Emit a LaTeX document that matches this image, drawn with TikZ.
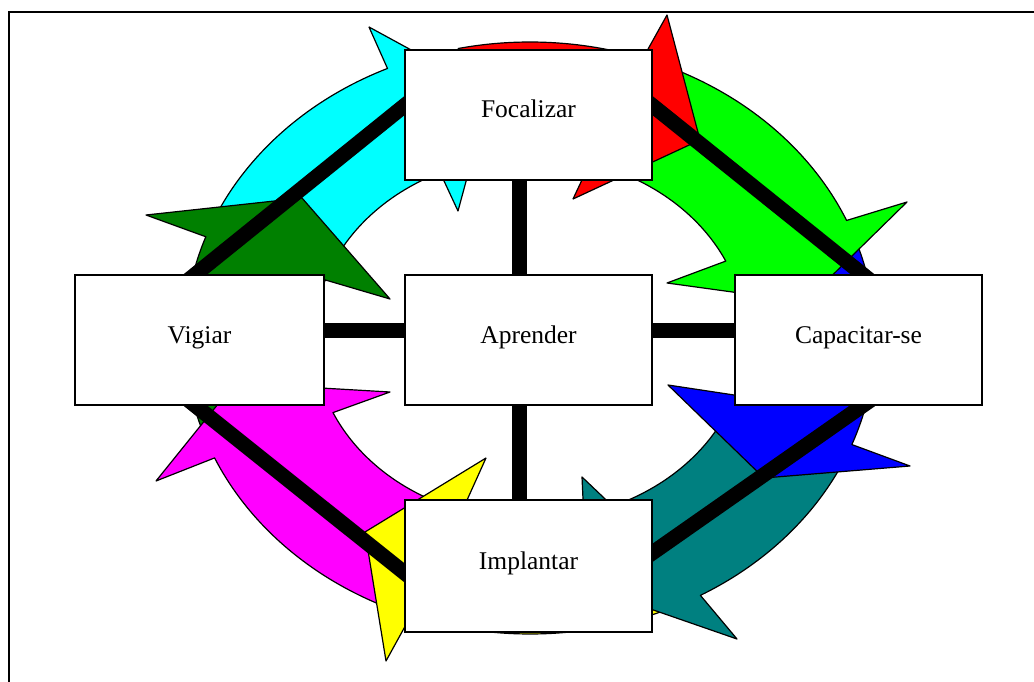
\documentclass[tikz,border=0pt]{standalone}
\usepackage{fontspec}
\setmainfont{Liberation Serif}
\usetikzlibrary{calc}
\pgfdeclarelayer{ring}
\pgfdeclarelayer{links}
\pgfsetlayers{ring,links,main}
\definecolor{ringcyan}{RGB}{0,255,255}
\definecolor{ringred}{RGB}{255,0,0}
\definecolor{ringlime}{RGB}{0,255,0}
\definecolor{ringblue}{RGB}{0,0,255}
\definecolor{ringteal}{RGB}{0,128,128}
\definecolor{ringyellow}{RGB}{255,255,0}
\definecolor{ringmagenta}{RGB}{255,0,255}
\definecolor{ringdkgreen}{RGB}{0,128,0}
\tikzset{
  ringpart/.style={draw=black, line width=1.2pt, line join=round},
  box/.style={draw=black, fill=white, line width=1.5pt, inner sep=0pt,
    minimum width=247pt, minimum height=130pt,
    font=\fontsize{25.5}{30}\selectfont, text height=12pt, text depth=6pt},
  link/.style={draw=black, line width=15pt, shorten <=-12pt, shorten >=-12pt},
  frameline/.style={draw=black, line width=1.5pt},
}
% one curved block arrow of the ring, running clockwise:
% #1 colour, #2 tail angle, #3 outer notch angle, #4 inner notch angle,
% #5 outer barb, #6 tip, #7 inner barb
\newcommand{\ringarrow}[7]{%
  \filldraw[ringpart, fill=#1]
    plot[domain=#2:#3, samples=40] ({530+345*cos(\x)},{338-296*sin(\x)})
    -- #5 -- #6 -- #7 --
    plot[domain=#4:#2, samples=40] ({530+216*cos(\x)},{338-182*sin(\x)})
    -- cycle;
}
\begin{document}
\begin{tikzpicture}[x=1pt,y=-1pt]
\useasboundingbox (0,0) rectangle (1034,682);

\begin{pgfonlayer}{ring}
  \fill[white] (0,0) rectangle (1034,682);
  \draw[frameline] (9,682) -- (9,12) -- (1034,12);
  \ringarrow{ringcyan}{158}{114.4}{114.6}{(369,27)}{(490,93)}{(458,211)}
  \ringarrow{ringdkgreen}{198}{160}{161.4}{(146,215)}{(302,198)}{(390,299)}
  \ringarrow{ringmagenta}{246}{203.9}{204.2}{(156,481)}{(235,383)}{(390,392)}
  \ringarrow{ringyellow}{295}{249.8}{251.7}{(386,661)}{(365,532)}{(486,458)}
  \ringarrow{ringteal}{335}{299.6}{292.5}{(737,639)}{(587,587)}{(582,477)}
  \ringarrow{ringblue}{22}{-21.1}{-18.3}{(910,466)}{(764,478)}{(668,385)}
  \ringarrow{ringlime}{68}{23.4}{25}{(907,202)}{(805,302)}{(667,283)}
  \ringarrow{ringred}{102}{70.9}{73.9}{(667,15)}{(700,140)}{(573,199)}
\end{pgfonlayer}

\node[box] (foc) at (528.5,115) {Focalizar};
\node[box] (apr) at (528.5,340) {Aprender};
\node[box, minimum width=249pt] (vig) at (199.5,340) {Vigiar};
\node[box] (cap) at (858.5,340) {Capacitar-se};
\node[box, minimum height=132pt] (imp) at (528.5,566) {Implantar};

\begin{pgfonlayer}{links}
  \draw[link] ($(foc.south)+(-9,0)$) -- ($(apr.north)+(-9,0)$);
  \draw[link] ($(apr.south)+(-9,0)$) -- ($(imp.north)+(-9,0)$);
  \draw[link] ($(vig.east)+(0,-9.5)$) -- ($(apr.west)+(0,-9.5)$);
  \draw[link] ($(apr.east)+(0,-9.5)$) -- ($(cap.west)+(0,-9.5)$);
  \draw[link] ($(foc.north west)!0.43!(foc.south west)$) -- ($(vig.north)+(-4,0)$);
  \draw[link] ($(foc.north east)!0.43!(foc.south east)$) -- ($(cap.north)+(4,0)$);
  \draw[link] ($(vig.south)+(-4,0)$) -- ($(imp.north west)!0.55!(imp.south west)$);
  \draw[link] ($(cap.south)+(4,0)$) -- ($(imp.north east)!0.40!(imp.south east)$);
\end{pgfonlayer}
\end{tikzpicture}
\end{document}
